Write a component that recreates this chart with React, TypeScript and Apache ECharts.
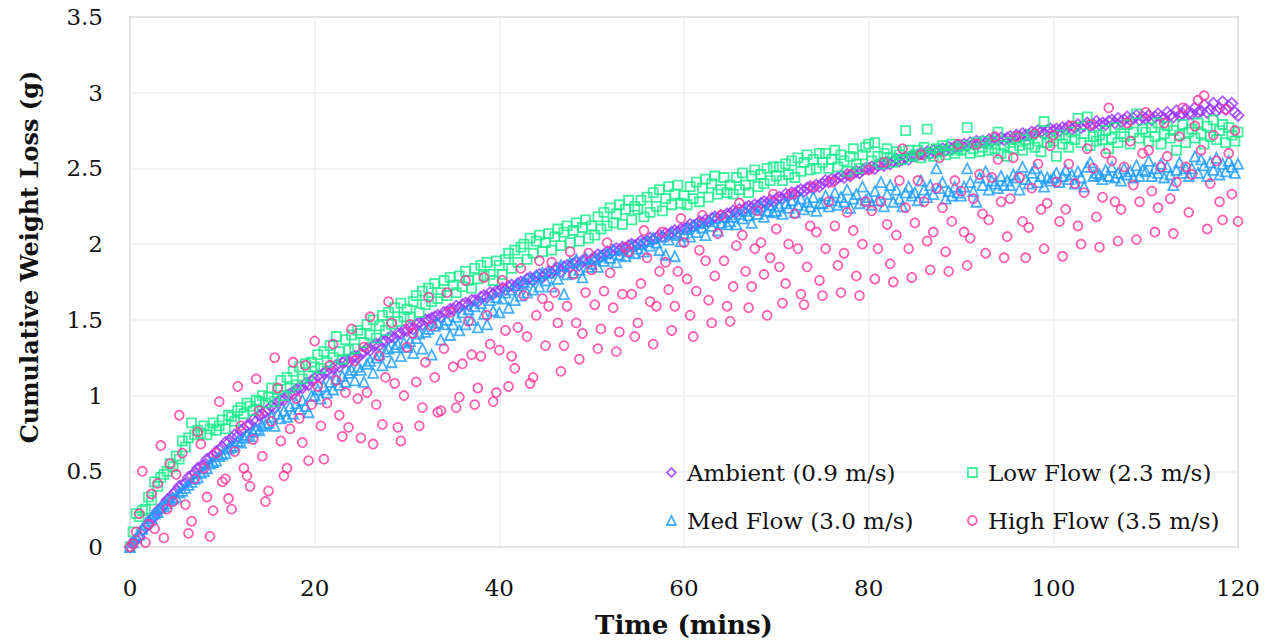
import React, { useEffect, useRef } from "react";
import * as echarts from "echarts";

// Samples every 20 s (1/3 min), 0 .. 120 min, 361 samples per series.
const SAMPLE_INTERVAL_MIN = 1 / 3;

const xTicks = { min: 0, max: 120, interval: 20 };
const yTicks = { min: 0, max: 3.5, interval: 0.5 };

const xTitle = "Time (mins)";
const yTitle = "Cumulative Weight Loss (g)";

const seriesNames = [
  "Ambient (0.9 m/s)",
  "Low Flow (2.3 m/s)",
  "Med Flow (3.0 m/s)",
  "High Flow (3.5 m/s)",
];

const ambient = [
  0.00,0.03,0.05,0.07,0.11,0.13,0.15,0.19,0.20,0.24,0.25,0.28,0.31,0.32,0.35,
  0.37,0.40,0.41,0.42,0.46,0.47,0.49,0.52,0.53,0.54,0.58,0.59,0.60,0.63,0.64,
  0.66,0.69,0.69,0.72,0.74,0.73,0.77,0.78,0.80,0.81,0.84,0.83,0.87,0.88,0.89,
  0.91,0.93,0.92,0.96,0.97,0.97,1.00,1.01,1.01,1.04,1.05,1.05,1.08,1.07,1.10,
  1.11,1.13,1.12,1.15,1.16,1.15,1.18,1.20,1.19,1.22,1.23,1.22,1.25,1.26,1.25,
  1.28,1.29,1.31,1.30,1.33,1.34,1.33,1.36,1.36,1.38,1.39,1.38,1.41,1.41,1.43,
  1.43,1.45,1.44,1.47,1.48,1.47,1.50,1.50,1.51,1.52,1.53,1.52,1.55,1.55,1.57,
  1.57,1.59,1.58,1.60,1.61,1.60,1.63,1.63,1.62,1.65,1.66,1.65,1.68,1.67,1.69,
  1.69,1.71,1.70,1.72,1.73,1.71,1.74,1.75,1.74,1.77,1.78,1.76,1.79,1.80,1.78,
  1.80,1.82,1.81,1.83,1.84,1.82,1.85,1.86,1.85,1.87,1.88,1.86,1.89,1.90,1.88,
  1.90,1.91,1.93,1.92,1.93,1.95,1.94,1.96,1.97,1.96,1.98,1.97,1.99,2.00,1.99,
  2.00,2.02,2.01,2.02,2.04,2.03,2.04,2.06,2.05,2.07,2.06,2.08,2.09,2.08,2.10,
  2.10,2.11,2.13,2.12,2.13,2.15,2.14,2.16,2.15,2.17,2.18,2.17,2.19,2.18,2.20,
  2.20,2.22,2.21,2.23,2.22,2.24,2.25,2.24,2.26,2.25,2.27,2.28,2.27,2.29,2.28,
  2.30,2.31,2.30,2.33,2.32,2.34,2.33,2.35,2.36,2.35,2.37,2.38,2.37,2.39,2.38,
  2.40,2.42,2.41,2.43,2.42,2.44,2.45,2.44,2.46,2.45,2.47,2.48,2.47,2.49,2.50,
  2.50,2.51,2.50,2.52,2.53,2.52,2.54,2.53,2.55,2.56,2.55,2.56,2.57,2.56,2.58,
  2.58,2.59,2.60,2.59,2.61,2.60,2.62,2.61,2.62,2.63,2.62,2.64,2.63,2.64,2.65,
  2.65,2.66,2.65,2.67,2.66,2.68,2.67,2.68,2.67,2.69,2.68,2.70,2.69,2.70,2.69,
  2.70,2.71,2.70,2.72,2.71,2.73,2.72,2.72,2.74,2.73,2.75,2.74,2.73,2.75,2.76,
  2.75,2.76,2.75,2.77,2.76,2.78,2.76,2.77,2.79,2.77,2.78,2.80,2.78,2.79,2.81,
  2.79,2.80,2.79,2.81,2.82,2.80,2.83,2.81,2.82,2.84,2.82,2.83,2.85,2.82,2.84,
  2.83,2.85,2.82,2.84,2.86,2.84,2.83,2.87,2.85,2.84,2.88,2.85,2.86,2.89,2.86,
  2.86,2.90,2.87,2.88,2.92,2.87,2.89,2.93,2.88,2.90,2.94,2.89,2.91,2.93,2.87,
  2.85,
];

const lowFlow = [
  0.00,0.10,0.22,0.20,0.24,0.25,0.33,0.31,0.43,0.40,0.46,0.48,0.50,0.55,0.53,
  0.60,0.58,0.70,0.66,0.72,0.82,0.74,0.77,0.75,0.80,0.74,0.78,0.82,0.77,0.80,
  0.84,0.78,0.87,0.86,0.83,0.90,0.92,0.88,0.95,0.93,0.90,0.97,0.96,1.00,0.95,
  0.99,1.05,0.96,1.04,1.10,1.00,1.12,1.05,1.16,1.07,1.19,1.11,1.21,1.13,1.22,
  1.19,1.27,1.18,1.29,1.22,1.33,1.25,1.39,1.29,1.24,1.37,1.30,1.40,1.31,1.43,
  1.41,1.35,1.47,1.40,1.50,1.38,1.46,1.53,1.43,1.55,1.47,1.58,1.49,1.61,1.52,
  1.57,1.52,1.62,1.66,1.55,1.69,1.60,1.71,1.62,1.74,1.64,1.68,1.76,1.66,1.78,
  1.73,1.68,1.79,1.72,1.82,1.76,1.71,1.84,1.77,1.86,1.79,1.88,1.80,1.76,1.89,
  1.86,1.80,1.90,1.94,1.84,1.96,1.88,1.98,2.00,1.90,2.04,1.94,2.02,2.06,1.95,
  2.01,2.07,1.96,2.05,2.10,1.99,2.08,2.12,2.01,2.09,2.14,2.02,2.11,2.16,2.04,
  2.12,2.06,2.18,2.10,2.21,2.12,2.24,2.14,2.20,2.26,2.13,2.23,2.29,2.16,2.25,
  2.23,2.29,2.18,2.31,2.21,2.34,2.25,2.36,2.22,2.30,2.38,2.26,2.33,2.39,2.27,
  2.32,2.26,2.38,2.30,2.41,2.28,2.37,2.43,2.31,2.40,2.45,2.33,2.36,2.44,2.34,
  2.39,2.33,2.44,2.36,2.47,2.39,2.34,2.45,2.49,2.38,2.46,2.40,2.50,2.42,2.51,
  2.45,2.51,2.42,2.53,2.46,2.55,2.44,2.57,2.48,2.54,2.59,2.49,2.56,2.50,2.60,
  2.54,2.60,2.50,2.56,2.62,2.51,2.59,2.55,2.48,2.58,2.63,2.53,2.50,2.59,2.64,
  2.66,2.55,2.67,2.58,2.53,2.60,2.63,2.57,2.54,2.61,2.59,2.56,2.75,2.62,2.58,
  2.59,2.62,2.57,2.64,2.76,2.60,2.58,2.63,2.61,2.65,2.59,2.62,2.66,2.60,2.63,
  2.62,2.65,2.77,2.60,2.63,2.67,2.61,2.64,2.68,2.62,2.66,2.63,2.74,2.60,2.65,
  2.58,2.67,2.63,2.70,2.65,2.62,2.69,2.66,2.72,2.64,2.68,2.61,2.81,2.67,2.70,
  2.68,2.58,2.72,2.66,2.70,2.64,2.74,2.69,2.83,2.67,2.73,2.84,2.65,2.71,2.68,
  2.72,2.69,2.75,2.63,2.70,2.77,2.67,2.73,2.71,2.79,2.66,2.74,2.86,2.70,2.76,
  2.74,2.68,2.77,2.71,2.80,2.66,2.73,2.78,2.70,2.75,2.62,2.72,2.79,2.67,2.74,
  2.76,2.70,2.80,2.73,2.66,2.78,2.71,2.82,2.69,2.75,2.79,2.67,2.77,2.72,2.68,
  2.74,
];

const medFlow = [
  0.00,0.03,0.06,0.08,0.12,0.15,0.17,0.19,0.22,0.23,0.26,0.27,0.29,0.31,0.32,
  0.33,0.36,0.37,0.39,0.41,0.43,0.45,0.46,0.49,0.50,0.52,0.55,0.56,0.57,0.60,
  0.61,0.62,0.65,0.66,0.67,0.70,0.69,0.72,0.74,0.73,0.76,0.78,0.77,0.80,0.81,
  0.82,0.86,0.80,0.88,0.85,0.90,0.86,0.93,0.88,0.95,0.91,0.97,0.93,0.89,1.00,
  1.00,1.04,0.98,1.06,1.02,1.09,1.04,1.11,1.07,1.13,1.09,1.15,1.17,1.10,1.19,
  1.17,1.09,1.21,1.23,1.15,1.25,1.27,1.20,1.29,1.31,1.22,1.32,1.34,1.26,1.35,
  1.32,1.36,1.28,1.38,1.41,1.31,1.42,1.44,1.27,1.46,1.48,1.37,1.47,1.50,1.40,
  1.47,1.52,1.43,1.55,1.47,1.57,1.50,1.59,1.45,1.61,1.54,1.47,1.63,1.56,1.65,
  1.55,1.64,1.68,1.58,1.70,1.63,1.73,1.66,1.75,1.68,1.77,1.70,1.79,1.72,1.81,
  1.76,1.81,1.72,1.84,1.77,1.86,1.67,1.80,1.88,1.81,1.90,1.83,1.78,1.91,1.85,
  1.87,1.90,1.85,1.92,1.89,1.94,1.91,1.96,1.88,1.93,1.97,1.92,1.95,1.99,1.94,
  1.97,2.00,1.95,2.02,1.99,2.04,2.01,1.96,2.05,1.93,2.03,2.07,1.92,2.06,2.02,
  2.07,2.10,2.05,2.12,2.08,2.14,2.11,2.06,2.15,2.12,2.17,2.09,2.14,2.18,2.13,
  2.15,2.18,2.13,2.20,2.17,2.22,2.19,2.14,2.23,2.20,2.25,2.18,2.22,2.26,2.21,
  2.22,2.25,2.20,2.27,2.24,2.29,2.21,2.26,2.30,2.23,2.28,2.25,2.31,2.22,2.27,
  2.27,2.32,2.25,2.29,2.34,2.26,2.31,2.28,2.36,2.24,2.30,2.33,2.27,2.38,2.29,
  2.31,2.26,2.35,2.29,2.41,2.25,2.33,2.39,2.28,2.36,2.30,2.25,2.34,2.38,2.32,
  2.34,2.29,2.42,2.36,2.31,2.39,2.33,2.50,2.37,2.41,2.30,2.35,2.32,2.38,2.34,
  2.32,2.38,2.50,2.41,2.35,2.28,2.44,2.39,2.48,2.36,2.42,2.40,2.37,2.45,2.39,
  2.42,2.39,2.46,2.44,2.36,2.51,2.43,2.40,2.47,2.50,2.41,2.45,2.38,2.44,2.42,
  2.44,2.47,2.41,2.45,2.49,2.43,2.46,2.40,2.48,2.44,2.38,2.51,2.54,2.45,2.47,
  2.46,2.43,2.49,2.45,2.51,2.44,2.47,2.42,2.50,2.46,2.48,2.44,2.52,2.45,2.49,
  2.48,2.55,2.45,2.50,2.47,2.53,2.44,2.51,2.46,2.39,2.49,2.54,2.47,2.50,2.45,
  2.50,2.58,2.47,2.56,2.52,2.45,2.54,2.49,2.57,2.46,2.53,2.48,2.55,2.51,2.47,
  2.53,
];

const highFlow = [
  0.00,0.02,0.10,0.22,0.50,0.03,0.15,0.35,0.12,0.42,0.67,0.06,0.25,0.55,0.30,
  0.48,0.87,0.62,0.28,0.09,0.17,0.45,0.76,0.68,0.52,0.33,0.07,0.24,0.62,0.96,
  0.43,0.45,0.32,0.25,0.63,1.06,0.80,0.52,0.47,0.40,0.71,1.11,0.90,0.60,0.30,
  0.37,0.83,1.25,1.05,0.70,0.47,0.52,0.78,1.22,0.98,0.85,0.69,1.20,0.57,0.94,
  1.36,1.06,0.80,0.58,0.95,1.20,1.34,1.10,0.87,0.73,1.02,0.79,1.44,1.23,0.98,
  0.72,1.32,1.02,1.52,0.68,0.94,1.26,0.81,1.12,1.62,1.48,1.08,0.79,0.70,1.00,
  1.32,1.47,1.41,1.09,0.80,0.92,1.22,1.65,1.46,1.12,0.89,0.90,1.31,1.68,1.55,
  1.19,0.92,0.99,1.21,1.76,1.49,1.27,0.94,1.05,1.26,1.78,1.53,1.34,0.96,1.02,
  1.30,1.76,1.43,1.06,1.26,1.18,1.45,1.84,1.66,1.39,1.08,1.12,1.53,1.89,1.64,
  1.33,1.59,1.88,1.68,1.48,1.16,1.33,1.59,1.95,1.80,1.48,1.24,1.41,1.68,1.94,
  1.83,1.60,1.31,1.44,1.69,2.01,1.81,1.58,1.29,1.42,1.67,1.98,1.95,1.67,1.39,
  1.48,1.74,2.09,1.91,1.62,1.34,1.59,1.82,2.08,1.88,1.70,1.43,1.59,1.82,2.17,
  2.01,1.77,1.53,1.39,1.69,1.96,2.19,1.89,1.63,1.48,1.79,2.07,2.19,1.89,1.59,
  1.49,1.72,1.99,2.27,2.06,1.82,1.58,1.72,1.97,2.22,2.01,1.80,1.53,1.91,2.33,
  2.10,1.85,1.61,1.74,2.00,2.33,2.20,1.97,1.67,1.60,1.85,2.12,2.38,2.08,1.76,
  1.66,1.97,2.28,2.41,2.12,1.86,1.68,1.94,2.21,2.46,2.09,1.79,1.66,2.00,2.28,
  2.49,2.22,1.77,1.97,2.28,2.54,2.13,1.87,1.75,2.06,2.42,2.63,2.24,1.97,1.78,
  2.14,2.42,2.59,2.28,2.02,1.83,2.08,2.37,2.57,2.24,1.95,1.82,2.15,2.42,2.66,
  2.35,2.08,1.86,2.04,2.30,2.66,2.46,2.20,1.94,2.16,2.44,2.71,2.56,2.28,1.91,
  2.05,2.30,2.57,2.71,2.44,2.15,1.91,2.11,2.37,2.73,2.53,2.23,1.97,2.27,2.65,
  2.72,2.41,2.15,1.92,2.23,2.53,2.78,2.40,2.12,2.00,2.34,2.63,2.79,2.50,2.18,
  1.98,2.31,2.60,2.90,2.55,2.28,2.02,2.23,2.51,2.80,2.68,2.39,2.03,2.28,2.60,
  2.87,2.62,2.35,2.08,2.24,2.51,2.80,2.58,2.30,2.07,2.41,2.71,2.90,2.51,2.21,
  2.46,2.78,2.95,2.62,2.98,2.10,2.40,2.72,2.55,2.28,2.16,2.89,2.60,2.33,2.75,
  2.15,
];

const seriesValues = [ambient, lowFlow, medFlow, highFlow];
const seriesColors = ["#9b38ff", "#12ee88", "#1a9cff", "#ff3797"];
const seriesSymbols = ["diamond", "rect", "triangle", "circle"];
const symbolSizes = [11, 9, 10, 9];
const legendPos = [
  { left: 666, top: 461 },
  { left: 967, top: 461 },
  { left: 666, top: 509 },
  { left: 967, top: 509 },
];

const FONT_NAME = "DejaVu Serif";
const FONT = "'DejaVu Serif', 'Liberation Serif', serif";

export default function App() {
  const ref = useRef<HTMLDivElement>(null);

  useEffect(() => {
    document.body.style.margin = "0";
    if (!ref.current) return;
    const chart = echarts.init(ref.current, undefined, { renderer: "svg" });

    const series = seriesNames.map((name, k) => ({
      type: "scatter",
      name,
      data: seriesValues[k].map((v, i) => [i * SAMPLE_INTERVAL_MIN, v]),
      symbol: seriesSymbols[k],
      symbolSize: symbolSizes[k],
      itemStyle: {
        color: "rgba(0,0,0,0)",
        borderColor: seriesColors[k],
        borderWidth: 1.8,
      },
      emphasis: { disabled: true },
      z: 2 + k,
    }));

    const legends = seriesNames.map((name, k) => ({
      data: [name],
      left: legendPos[k].left,
      top: legendPos[k].top,
      padding: 0,
      itemWidth: 9,
      itemHeight: 9,
      itemGap: 0,
      icon: seriesSymbols[k],
      itemStyle: {
        color: "rgba(0,0,0,0)",
        borderColor: seriesColors[k],
        borderWidth: 1.8,
      },
      textStyle: { fontFamily: FONT, fontSize: 23, color: "#111", padding: [0, 0, 0, 6] },
      selectedMode: false,
    }));

    chart.setOption({
      animation: false,
      textStyle: { fontFamily: FONT },
      grid: {
        left: 130,
        right: 35,
        top: 17,
        bottom: 95,
        show: true,
        borderColor: "#c0c0c0",
        borderWidth: 2,
        backgroundColor: "#ffffff",
      },
      legend: legends,
      graphic: [
        {
          type: "text",
          x: 29,
          y: 257,
          rotation: Math.PI / 2,
          silent: true,
          style: {
            text: yTitle,
            font: `bold 24px '${FONT_NAME}'`,
            fill: "#111",
            align: "center",
            verticalAlign: "middle",
            textAlign: "center",
            textVerticalAlign: "middle",
          },
        },
      ],
      xAxis: {
        type: "value",
        min: xTicks.min,
        max: xTicks.max,
        interval: xTicks.interval,
        name: xTitle,
        nameLocation: "middle",
        nameGap: 65,
        nameTextStyle: { fontFamily: FONT, fontSize: 26, fontWeight: "bold", color: "#111" },
        axisLine: { show: false },
        axisTick: { show: false },
        axisLabel: { fontFamily: FONT, fontSize: 23, color: "#111", margin: 29 },
        splitLine: { show: true, lineStyle: { color: "#efefef", width: 1.5 } },
      },
      yAxis: {
        type: "value",
        min: yTicks.min,
        max: yTicks.max,
        interval: yTicks.interval,
        axisLine: { show: false },
        axisTick: { show: false },
        axisLabel: { fontFamily: FONT, fontSize: 23, color: "#111", margin: 27 },
        splitLine: { show: true, lineStyle: { color: "#efefef", width: 1.5 } },
      },
      series,
    });

    return () => chart.dispose();
  }, []);

  return <div ref={ref} style={{ width: 1273, height: 643 }} />;
}
